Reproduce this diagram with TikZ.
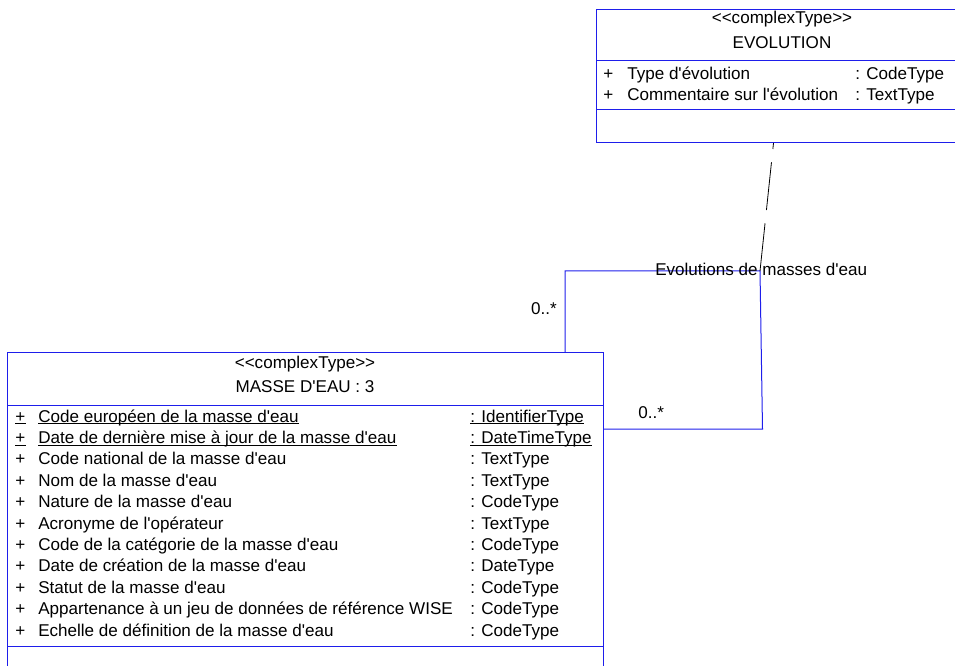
\documentclass[tikz,border=0pt]{standalone}
\usepackage{fontspec}
\setmainfont{Liberation Sans}
\newfontfamily\umlfam{Liberation Sans}
\definecolor{umlblue}{RGB}{30,30,235}
\newcommand\umlfont{\umlfam\fontsize{12.8}{15}\selectfont}
\begin{document}
\begin{tikzpicture}[x=0.75pt,y=-0.75pt,
  box/.style={draw=umlblue, line width=0.75pt, inner sep=0pt, anchor=north west},
  txt/.style={inner sep=0pt, font=\umlfont, anchor=base west},
  ctxt/.style={inner sep=0pt, font=\umlfont, anchor=base},
  conn/.style={draw=umlblue, line width=0.75pt},
  dashconn/.style={draw=black, line width=0.6pt, dash pattern=on 36pt off 10pt},
  uline/.style={line width=0.8pt}]
\useasboundingbox (0,0) rectangle (955,666);
\clip (0,0) rectangle (955,666);

% ---------- EVOLUTION ----------
\node[box, minimum width=279pt, minimum height=99.75pt] (evo) at (596,9) {};
\draw[conn] (evo.west |- 0,61) -- (evo.east |- 0,61);
\draw[conn] (evo.west |- 0,110) -- (evo.east |- 0,110);
\node[ctxt] (evost) at (782,24) {{<}{<}complexType{>}{>}};
\node[ctxt] (evoname) at (782,49) {EVOLUTION};
\node[txt] (ep1) at (603,80) {+};
\node[txt] (en1) at (627,80) {Type d'évolution};
\node[txt] (et1) at (855,80) {: CodeType};
\node[txt] (ep2) at (603,101) {+};
\node[txt] (en2) at (627,101) {Commentaire sur l'évolution};
\node[txt] (et2) at (855,101) {: TextType};

% ---------- MASSE D'EAU ----------
\node[box, minimum width=447pt, minimum height=261pt] (masse) at (7,352) {};
\draw[conn] (masse.west |- 0,405) -- (masse.east |- 0,405);
\draw[conn] (masse.west |- 0,646) -- (masse.east |- 0,646);
\node[ctxt] (mst) at (305,368) {{<}{<}complexType{>}{>}};
\node[ctxt] (mname) at (305,392) {MASSE D'EAU : 3};

\node[txt] (p1) at (15,422) {+};
\node[txt] (n1) at (38,422) {Code européen de la masse d'eau};
\node[txt] (t1) at (470,422) {: IdentifierType};
\node[txt] (p2) at (15,443.4) {+};
\node[txt] (n2) at (38,443.4) {Date de dernière mise à jour de la masse d'eau};
\node[txt] (t2) at (470,443.4) {: DateTimeType};
\foreach \p in {p1,n1,t1,p2,n2,t2}
  \draw[uline] ([yshift=-1.4pt]\p.base west) -- ([yshift=-1.4pt]\p.base east);

\node[txt] (p3) at (15,464.8) {+};
\node[txt] (n3) at (38,464.8) {Code national de la masse d'eau};
\node[txt] (t3) at (470,464.8) {: TextType};
\node[txt] (p4) at (15,486.2) {+};
\node[txt] (n4) at (38,486.2) {Nom de la masse d'eau};
\node[txt] (t4) at (470,486.2) {: TextType};
\node[txt] (p5) at (15,507.6) {+};
\node[txt] (n5) at (38,507.6) {Nature de la masse d'eau};
\node[txt] (t5) at (470,507.6) {: CodeType};
\node[txt] (p6) at (15,529) {+};
\node[txt] (n6) at (38,529) {Acronyme de l'opérateur};
\node[txt] (t6) at (470,529) {: TextType};
\node[txt] (p7) at (15,550.4) {+};
\node[txt] (n7) at (38,550.4) {Code de la catégorie de la masse d'eau};
\node[txt] (t7) at (470,550.4) {: CodeType};
\node[txt] (p8) at (15,571.8) {+};
\node[txt] (n8) at (38,571.8) {Date de création de la masse d'eau};
\node[txt] (t8) at (470,571.8) {: DateType};
\node[txt] (p9) at (15,593.2) {+};
\node[txt] (n9) at (38,593.2) {Statut de la masse d'eau};
\node[txt] (t9) at (470,593.2) {: CodeType};
\node[txt] (p10) at (15,614.6) {+};
\node[txt] (n10) at (38,614.6) {Appartenance à un jeu de données de référence WISE};
\node[txt] (t10) at (470,614.6) {: CodeType};
\node[txt] (p11) at (15,636) {+};
\node[txt] (n11) at (38,636) {Echelle de définition de la masse d'eau};
\node[txt] (t11) at (470,636) {: CodeType};

% ---------- association ----------
\coordinate (c1) at (565,271);
\coordinate (c2) at (760,271);
\coordinate (c3) at (762.5,429);
\coordinate (d1) at (773.5,0);
\draw[conn] (masse.north -| c1) -- (c1) -- (c2) -- (c3) -- (c3 -| masse.east);
\draw[dashconn] (c2) -- (d1 |- evo.south);
\node[txt] (alabel) at (655,276) {Evolutions de masses d'eau};
\node[txt, anchor=base east] (m1) at (557,314) {0..*};
\node[txt] (m2) at (638,418) {0..*};
\end{tikzpicture}
\end{document}
